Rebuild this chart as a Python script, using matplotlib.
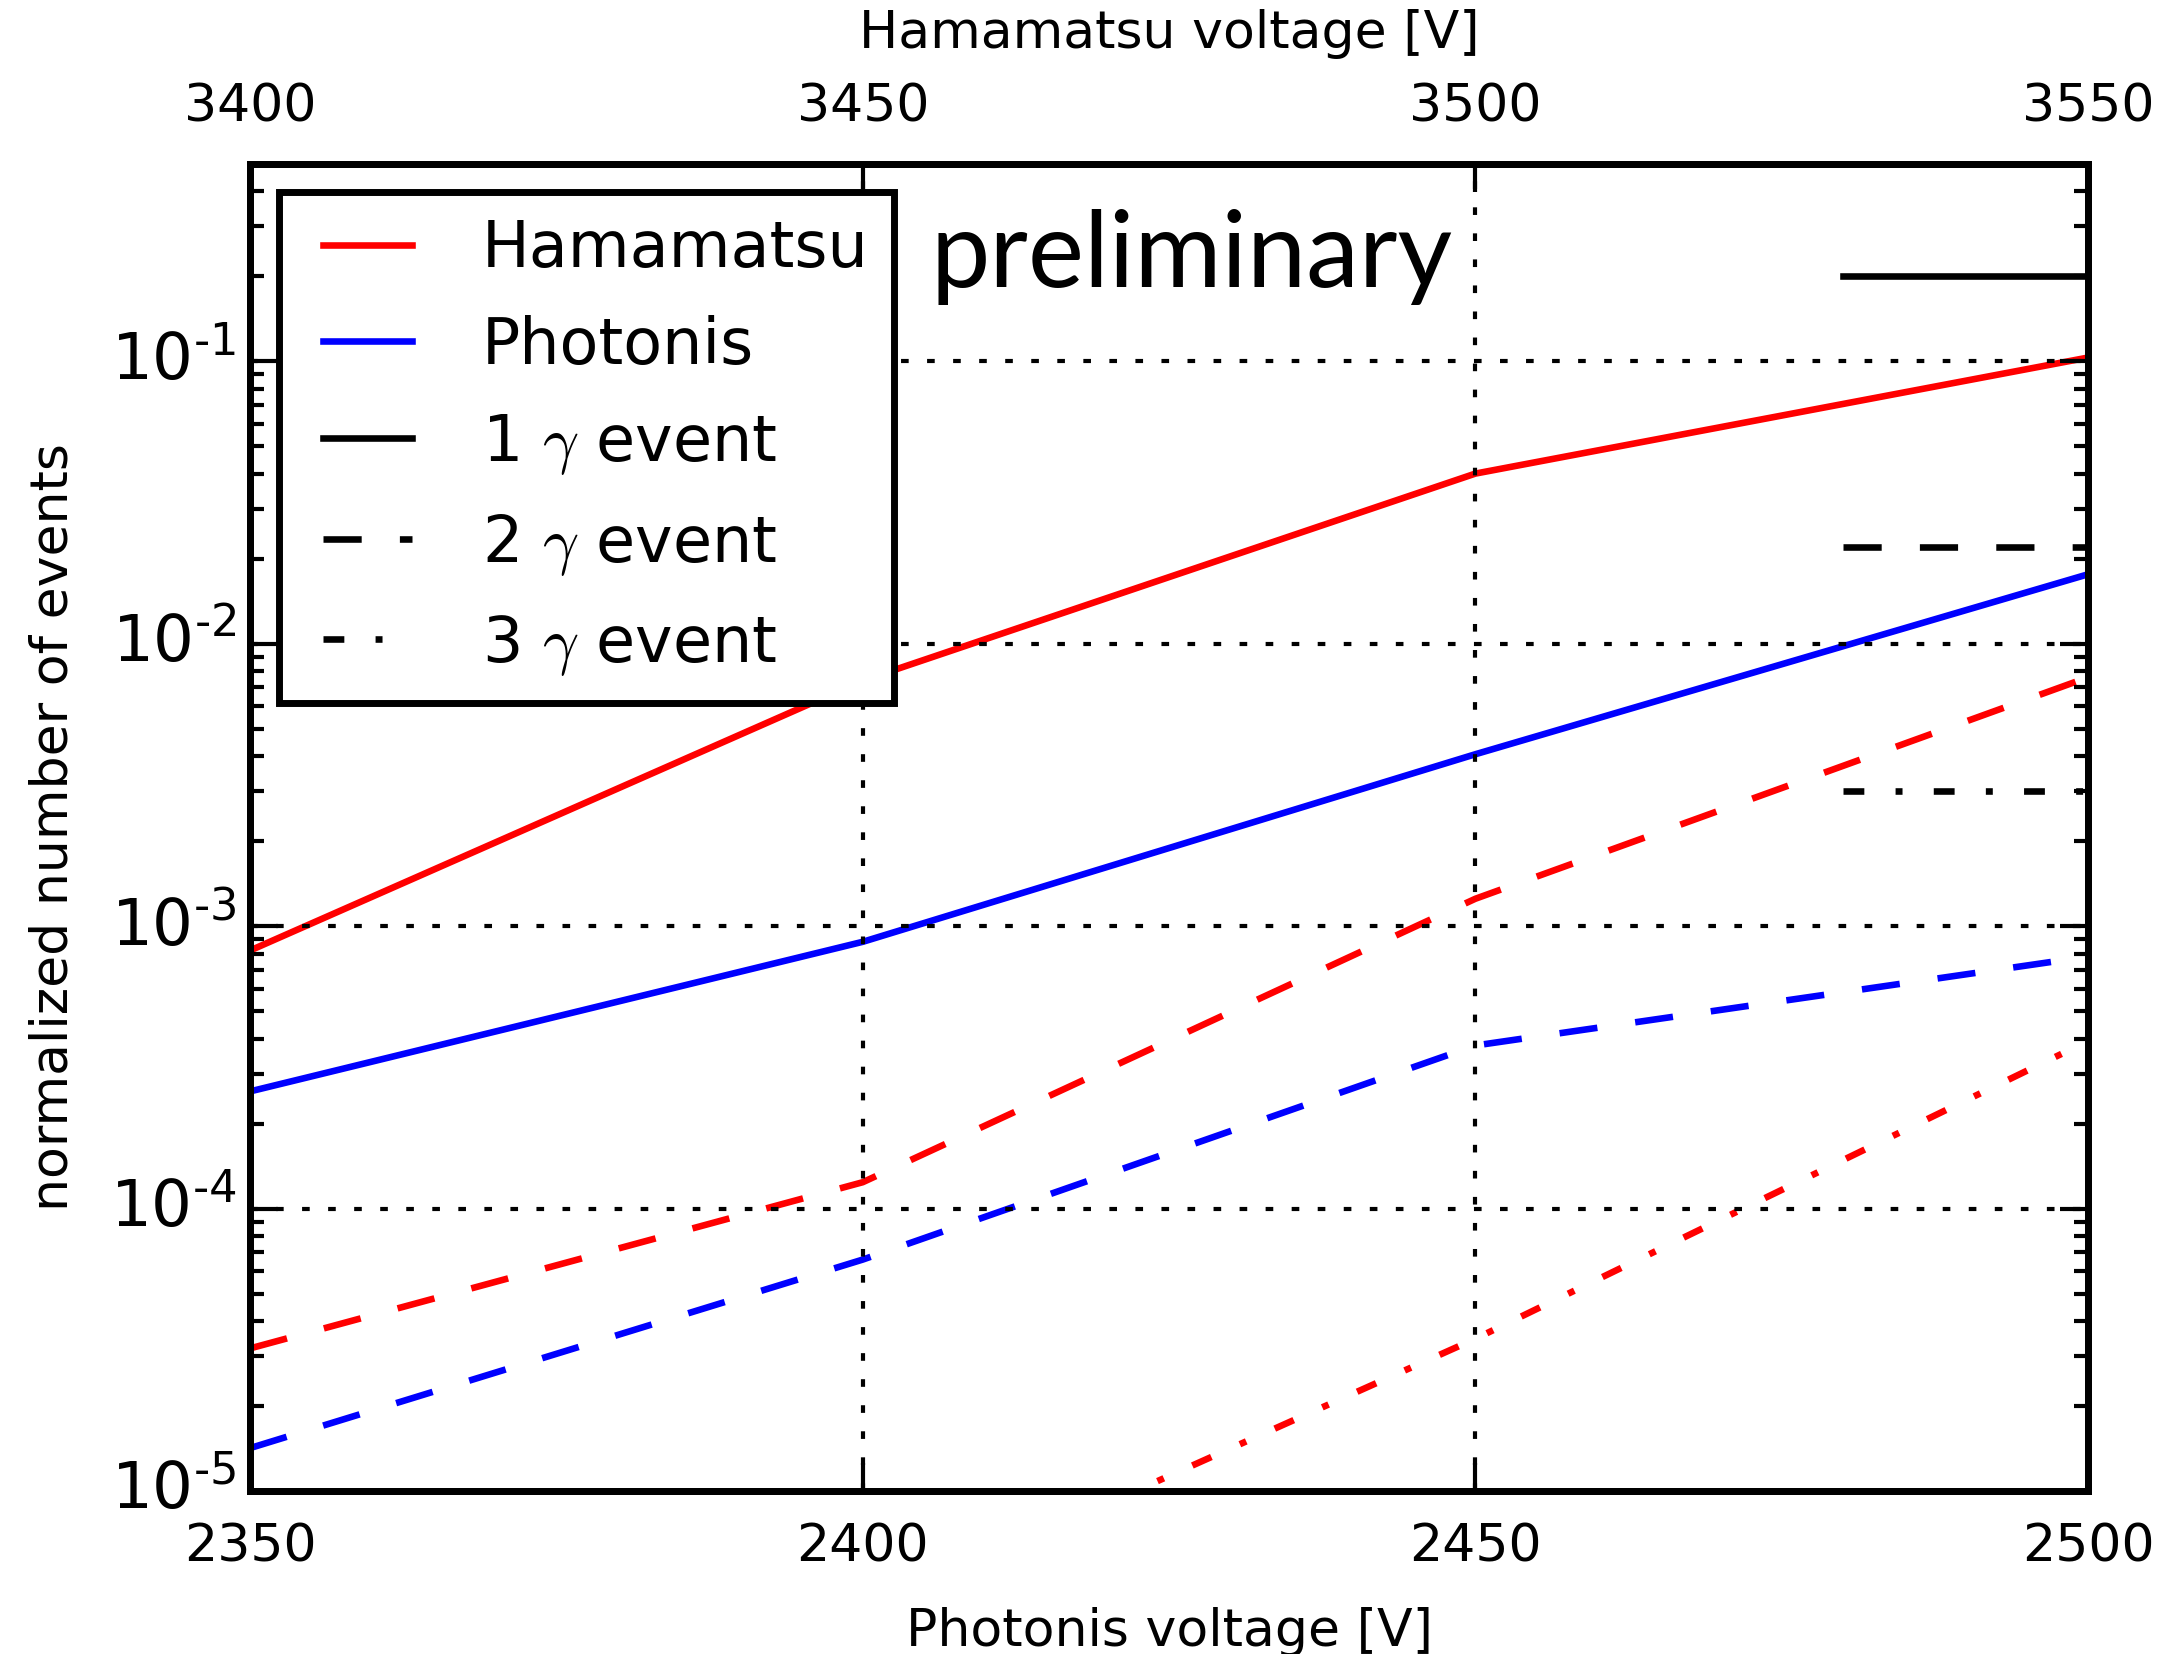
import numpy as np
import matplotlib.pyplot as plt
from matplotlib.ticker import FuncFormatter

plt.style.use('classic')
plt.rcParams['figure.facecolor'] = 'white'
plt.rcParams['font.size'] = 15
plt.rcParams['axes.unicode_minus'] = False
plt.rcParams['lines.scale_dashes'] = False

# voltages
photonis_v = [2350, 2400, 2450, 2500]
hamamatsu_v = [3400, 3450, 3500, 3550]

# normalized number of events
ham_1g = [8.2e-4, 7.4e-3, 4.0e-2, 1.03e-1]
ham_2g = [3.2e-5, 1.24e-4, 1.25e-3, 7.6e-3]
ham_3g_v = [2400, 2450, 2500]
ham_3g = [3.7e-6, 3.46e-5, 3.92e-4]
pho_1g = [2.6e-4, 8.8e-4, 4.06e-3, 1.76e-2]
pho_2g = [1.42e-5, 6.6e-5, 3.78e-4, 7.8e-4]

# black reference lines at the right edge
ref_x = [2480, 2500]
ref_1g = [0.2, 0.2]
ref_2g = [0.022, 0.022]
ref_3g = [0.003, 0.003]

lw = 1.9
dashed = (0, (11, 11))
dashdot = (0, (6, 9, 2, 9))

fig = plt.figure(figsize=(8.7, 6.616), dpi=250)
ax = fig.add_axes([0.115, 0.0985, 0.845, 0.8025])

ax.plot(photonis_v, ham_1g, color='r', lw=lw, ls='-')
ax.plot(photonis_v, ham_2g, color='r', lw=lw, ls=dashed)
ax.plot(ham_3g_v, ham_3g, color='r', lw=lw, ls=dashdot)
ax.plot(photonis_v, pho_1g, color='b', lw=lw, ls='-')
ax.plot(photonis_v, pho_2g, color='b', lw=lw, ls=dashed)

ax.plot(ref_x, ref_1g, color='k', lw=lw, ls='-')
ax.plot(ref_x, ref_2g, color='k', lw=lw, ls=dashed)
ax.plot(ref_x, ref_3g, color='k', lw=lw, ls=dashdot)

ax.set_yscale('log')
ax.set_ylim(1e-5, 0.5)
ax.set_xlim(2350, 2500)
ax.set_xticks(photonis_v)


def log_label(v, pos):
    e = int(round(np.log10(v)))
    # hyphen (U+2010) instead of a math minus, like the original labels
    return r'$\mathdefault{10^{%s%d}}$' % ('\u2010' if e < 0 else '', abs(e))


ax.yaxis.set_major_formatter(FuncFormatter(log_label))
ax.set_xlabel('Photonis voltage [V]', labelpad=10)
ax.set_ylabel('normalized number of events', labelpad=9)
ax.grid(True, which='major', color='k', ls=(0, (2.2, 5.3)), lw=1.2)
ax.tick_params(axis='x', pad=9)
ax.tick_params(axis='y', labelsize=18.5)
ax.tick_params(which='major', length=8, width=1.2)
ax.tick_params(which='minor', length=4, width=1.2)
for s in ax.spines.values():
    s.set_linewidth(2)

ax2 = ax.twiny()
ax2.set_xlim(3400, 3550)
ax2.set_xticks(hamamatsu_v)
ax2.set_xlabel('Hamamatsu voltage [V]', labelpad=10)
ax2.tick_params(which='major', length=8, width=1.2, pad=9)
for s in ax2.spines.values():
    s.set_linewidth(2)

handles = [
    plt.Line2D([], [], color='r', lw=lw),
    plt.Line2D([], [], color='b', lw=lw),
    plt.Line2D([], [], color='k', lw=lw, ls='-'),
    plt.Line2D([], [], color='k', lw=lw, ls=dashed),
    plt.Line2D([], [], color='k', lw=lw, ls=dashdot),
]
labels = ['Hamamatsu', 'Photonis', r'1 $\gamma$ event', r'2 $\gamma$ event', r'3 $\gamma$ event']
leg = ax2.legend(handles, labels, loc='upper left', fontsize=18.3,
                 borderaxespad=0.45, handlelength=2.0, labelspacing=0.55)
leg.get_frame().set_linewidth(2)

ax.text(0.37, 0.93, 'preliminary', transform=ax.transAxes, fontsize=30.5,
        family='Lato', va='center', ha='left')

fig.savefig('out.png', dpi=250)
